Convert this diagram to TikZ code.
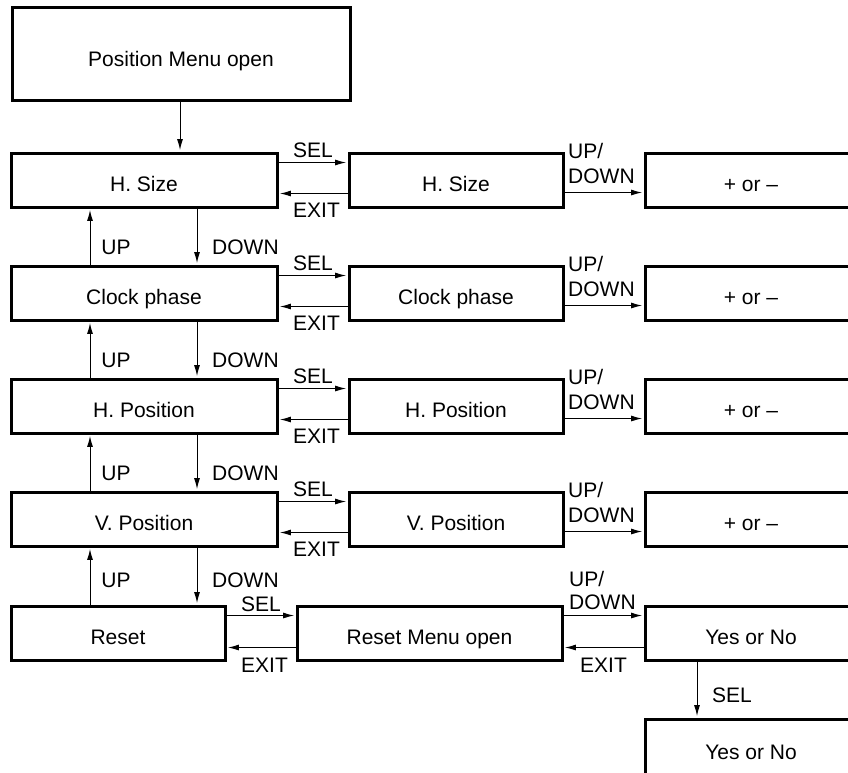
\documentclass[tikz,border=0pt]{standalone}
\usepackage{fontspec}
\setmainfont{Liberation Sans}
\usetikzlibrary{arrows.meta}
\begin{document}
\begin{tikzpicture}[x=1pt,y=-1pt,
  txt/.style={font=\fontsize{21}{25}\selectfont},
  box/.style={txt, draw, line width=3pt, inner sep=0pt, minimum height=54pt,
    text height=23pt, text depth=0pt},
  lbl/.style={txt, inner sep=0pt, text height=15pt, text depth=0pt},
  arr/.style={-{Latex[length=11pt,width=6pt]}, line width=1pt, shorten >=1.4pt}]
\useasboundingbox (0,0) rectangle (848,772);

\node[box, minimum width=338pt, minimum height=93pt, text height=26pt] (top) at (181,53.5) {Position Menu open};

\foreach \i/\t in {0/H. Size,1/Clock phase,2/H. Position,3/V. Position} {
  \pgfmathsetmacro\T{153+113*\i}
  \node[box, minimum width=266pt] (a\i) at (144,\T+27) {\t};
  \node[box, minimum width=214pt] (b\i) at (456,\T+27) {\t};
  \node[box, minimum width=212pt] (c\i) at (751,\T+27) {+ or –};
  \draw[arr] ([yshift=-11pt]a\i.north east) -- ([yshift=-11pt]b\i.north west);
  \draw[arr] ([yshift=-42pt]b\i.north west) -- ([yshift=-42pt]a\i.north east);
  \draw[arr] ([yshift=-41pt]b\i.north east) -- ([yshift=-41pt]c\i.north west);
  \node[lbl, anchor=west] (sel\i) at (293,\T-3) {SEL};
  \node[lbl, anchor=west] (exit\i) at (293,\T+57) {EXIT};
  \node[lbl, anchor=base west] (ud\i) at (568,\T+5) {UP/};
  \node[lbl, anchor=base west] (dn\i) at (568,\T+30) {DOWN};
}

\foreach \i/\j in {0/1,1/2,2/3} {
  \pgfmathsetmacro\T{153+113*\j}
  \draw[arr] ([xshift=53pt]a\i.south) -- ([xshift=53pt]a\j.north);
  \draw[arr] ([xshift=-54pt]a\j.north) -- ([xshift=-54pt]a\i.south);
  \node[lbl] (up\j) at (116,\T-19) {UP};
  \node[lbl, anchor=west] (down\j) at (212,\T-19) {DOWN};
}

\draw[arr] ([xshift=-1pt]top.south) -- ([xshift=-1pt]top.south |- a0.north);

% Reset row
\node[box, minimum width=214pt] (rs) at (118,633) {Reset};
\node[box, minimum width=265pt] (rm) at (429.5,633) {Reset Menu open};
\node[box, minimum width=212pt] (yn) at (751,633) {Yes or No};
\node[box, minimum width=212pt, minimum height=58pt] (yn2) at (751,748) {Yes or No};

\draw[arr] ([xshift=53pt]a3.south) -- ([xshift=53pt]a3.south |- rs.north);
\draw[arr] ([xshift=-54pt]a3.south |- rs.north) -- ([xshift=-54pt]a3.south);
\node[lbl] (up4) at (116,580) {UP};
\node[lbl, anchor=west] (down4) at (212,580) {DOWN};

\draw[arr] ([yshift=-11pt]rs.north east) -- ([yshift=-11pt]rm.north west);
\draw[arr] ([yshift=-43pt]rm.north west) -- ([yshift=-43pt]rs.north east);
\draw[arr] ([yshift=-11pt]rm.north east) -- ([yshift=-11pt]yn.north west);
\draw[arr] ([yshift=-43pt]yn.north west) -- ([yshift=-43pt]rm.north east);
\node[lbl, anchor=west] (selr) at (241,604) {SEL};
\node[lbl, anchor=west] (exitr) at (241,665) {EXIT};
\node[lbl, anchor=base west] (udr) at (569,586) {UP/};
\node[lbl, anchor=base west] (dnr) at (569,609) {DOWN};
\node[lbl, anchor=west] (exitr2) at (580,665) {EXIT};

\draw[arr] ([xshift=-54pt]yn.south) -- ([xshift=-54pt]yn2.north);
\node[lbl, anchor=west] (selb) at (712,695) {SEL};
\end{tikzpicture}
\end{document}
